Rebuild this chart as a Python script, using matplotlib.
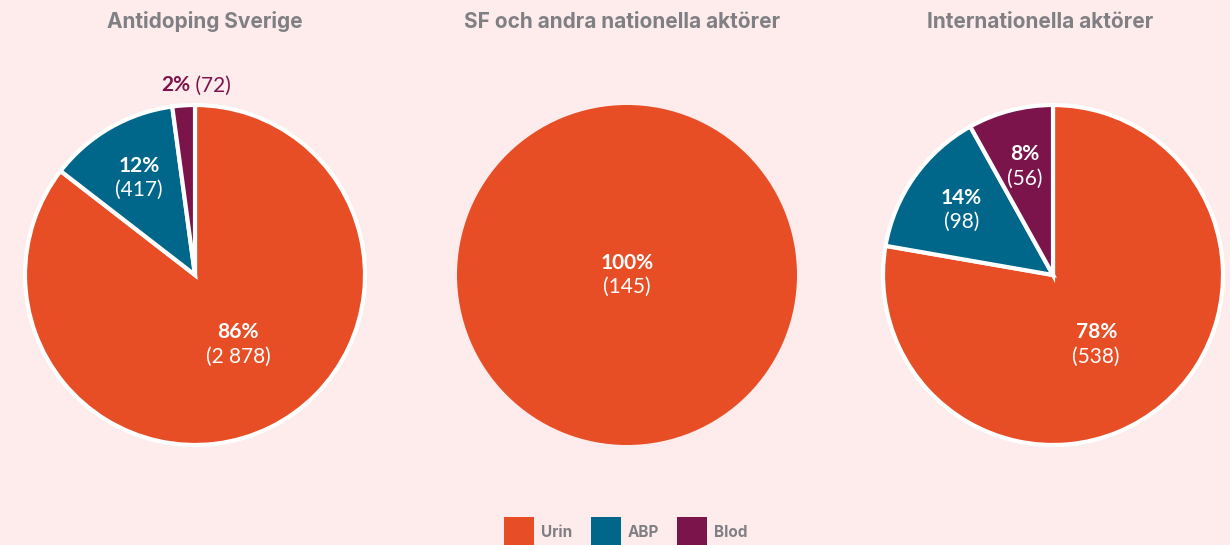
import numpy as np
import matplotlib

matplotlib.use("Agg")
import matplotlib.pyplot as plt
from matplotlib.patches import Patch

BG = "#fdeceb"
GREY = "#7f7f84"
COLORS = ["#e84e25", "#00678a", "#7c144c"]

categories = ["Urin", "ABP", "Blod"]
titles = ["Antidoping Sverige", "SF och andra nationella aktörer", "Internationella aktörer"]
counts = [
    [2878, 417, 72],
    [145, 0, 0],
    [538, 98, 56],
]
percents = [
    [86, 12, 2],
    [100, 0, 0],
    [78, 14, 8],
]
count_labels = [
    ["2\u202f878", "417", "72"],
    ["145", "", ""],
    ["538", "98", "56"],
]

plt.rcParams["font.family"] = ["Lato", "DejaVu Sans"]

fig = plt.figure(figsize=(12.3, 5.45), dpi=100)
fig.patch.set_facecolor(BG)

W, H = 1230, 545
centers = [195, 627, 1053]
title_x = [205, 622, 1040]
R = 170

for i, vals in enumerate(counts):
    ax = fig.add_axes([(centers[i] - R) / W, (H - 275 - R) / H, 2 * R / W, 2 * R / H])
    ax.set_facecolor(BG)
    vals = np.array(vals, dtype=float)
    keep = vals > 0
    v = vals[keep]
    cols = [c for c, k in zip(COLORS, keep) if k]
    single = len(v) == 1
    ax.pie(v, colors=cols, startangle=90, counterclock=False,
           wedgeprops=dict(edgecolor="white", linewidth=0 if single else 3))
    ax.set_xlim(-1, 1)
    ax.set_ylim(-1, 1)
    total = vals.sum()
    start = 90.0
    for j, val in enumerate(vals):
        if val <= 0:
            continue
        span = 360 * val / total
        mid = np.deg2rad(start - span / 2)
        start -= span
        pct = percents[i][j]
        lbl = count_labels[i][j]
        if single:
            x, y = 0, 0
        elif pct < 5:
            # small slice: label outside, above the pie
            ax.text(-0.03, 1.115, f"{pct}%", ha="right", va="center", fontsize=15,
                    fontweight="bold", color=COLORS[j])
            ax.text(-0.03, 1.115, f" ({lbl})", ha="left", va="center", fontsize=15,
                    color=COLORS[j])
            continue
        elif j == 0:
            a = np.deg2rad(-58)
            x, y = 0.48 * np.cos(a), 0.48 * np.sin(a)
        else:
            d = 0.66
            x, y = d * np.cos(mid), d * np.sin(mid)
        ax.text(x, y + 0.072, f"{pct}%", ha="center", va="center", fontsize=15,
                fontweight="bold", color="white")
        ax.text(x, y - 0.072, f"({lbl})", ha="center", va="center", fontsize=15,
                color="white")
    ax.axis("off")
    fig.text(title_x[i] / W, 1 - 22 / H, titles[i], ha="center", va="center",
             fontsize=15, fontweight="bold", color=GREY, family=["Inter", "DejaVu Sans"])

handles = [Patch(facecolor=c, edgecolor="none") for c in COLORS]
leg = fig.legend(handles, categories, loc="center", bbox_to_anchor=(0.509, 1 - 532 / H),
                 ncol=3, frameon=False, handlelength=1.96, handleheight=2.64,
                 columnspacing=1.2, handletextpad=0.45, borderpad=0,
                 prop=dict(family=["Inter", "DejaVu Sans"], weight="bold", size=11))
for t in leg.get_texts():
    t.set_color(GREY)

fig.savefig("out.png", dpi=100, facecolor=BG)
